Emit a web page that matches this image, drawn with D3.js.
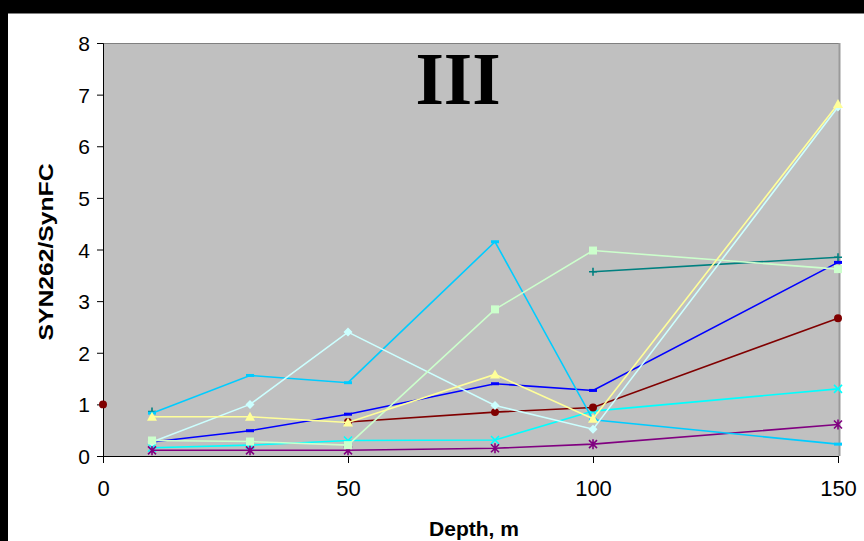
<html>
<head>
	<title>Depth profile III</title>
	<meta charset="utf-8">
	<script src="https://d3js.org/d3.v7.min.js"></script>
	<style>
		body { margin: 0; background: #fff; }
		text { font-family: Arial, "Liberation Sans", sans-serif; }
	</style>
</head>
<body>
	<svg id="chart" width="864" height="541"></svg>

	<script type="text/javascript">
		// depths (m) shared by every series
		var depths = [0, 10, 30, 50, 80, 100, 150]
		var xTicks = [0, 50, 100, 150]
		var yTicks = [0, 1, 2, 3, 4, 5, 6, 7, 8]

		// ratio values per series, null = no sample
		var cyanVals   = [null, 0.16, 0.21, 0.30, 0.31, 0.87, 1.30]
		var purpleVals = [null, 0.11, 0.11, 0.11, 0.15, 0.23, 0.61]
		var redVals    = [1.00, null, null, 0.66, 0.85, 0.94, 2.67]
		var tealVals   = [null, 0.86, null, null, null, 3.57, 3.85]
		var blueVals   = [null, 0.27, 0.49, 0.81, 1.40, 1.27, 3.75]
		var skyVals    = [null, 0.83, 1.56, 1.42, 4.15, 0.70, 0.23]
		var paleCyanVals  = [null, 0.27, 1.00, 2.40, 0.98, 0.52, 6.76]
		var paleGreenVals = [null, 0.30, 0.28, 0.21, 2.84, 3.98, 3.62]
		var paleYellowVals = [null, 0.76, 0.76, 0.65, 1.58, 0.72, 6.82]

		// drawing order (last one on top)
		var series = [
			{vals: cyanVals, color: "#00FFFF", marker: "x"},
			{vals: purpleVals, color: "#800080", marker: "star"},
			{vals: redVals, color: "#800000", marker: "circle"},
			{vals: tealVals, color: "#008080", marker: "plus"},
			{vals: blueVals, color: "#0000FF", marker: "bar"},
			{vals: skyVals, color: "#00CCFF", marker: "bar"},
			{vals: paleCyanVals, color: "#CCFFFF", marker: "diamond"},
			{vals: paleGreenVals, color: "#CCFFCC", marker: "square"},
			{vals: paleYellowVals, color: "#FFFF99", marker: "triangle"}
		]

		var svg = d3.select("#chart")

		// black frame left/top like the original screenshot
		svg.append("rect").attr("x", 0).attr("y", 0).attr("width", 864).attr("height", 13).attr("fill", "#000")
		svg.append("rect").attr("x", 0).attr("y", 0).attr("width", 8).attr("height", 541).attr("fill", "#000")
		svg.append("line").attr("x1", 8).attr("x2", 864).attr("y1", 13.5).attr("y2", 13.5).attr("stroke", "#808080")

		var plotL = 103, plotR = 838, plotT = 43, plotB = 456
		var x = d3.scaleLinear().domain([0, 150]).range([plotL, plotR])
		var y = d3.scaleLinear().domain([0, 8]).range([plotB, plotT])

		// plot area
		svg.append("rect")
			.attr("x", plotL).attr("y", plotT)
			.attr("width", 839 - plotL).attr("height", plotB - plotT)
			.attr("fill", "#C0C0C0")
		svg.append("line").attr("x1", plotL).attr("x2", 840).attr("y1", plotT + 0.5).attr("y2", plotT + 0.5)
			.attr("stroke", "#808080")
		svg.append("line").attr("x1", 839.5).attr("x2", 839.5).attr("y1", plotT).attr("y2", plotB)
			.attr("stroke", "#9a9a9a").attr("stroke-width", 2)

		// title
		svg.append("text")
			.attr("x", 458).attr("y", 104)
			.attr("text-anchor", "middle")
			.style("font-family", "'Liberation Serif', 'Times New Roman', serif")
			.style("font-weight", "bold")
			.style("font-size", "73px")
			.text("III")

		// axes
		var yAxis = d3.axisLeft(y).tickValues(yTicks).tickSize(6).tickFormat(d3.format("d"))
		var gy = svg.append("g").attr("transform", "translate(" + plotL + ",0)").call(yAxis)
		gy.selectAll("text").style("font-size", "21px").attr("x", -13).attr("dy", "0.36em")

		var xAxis = d3.axisBottom(x).tickValues(xTicks).tickSize(7).tickFormat(d3.format("d"))
		var gx = svg.append("g").attr("transform", "translate(0," + plotB + ")").call(xAxis)
		gx.selectAll("text").style("font-size", "22px").attr("y", 40).attr("dy", 0)

		svg.selectAll(".domain, .tick line").attr("stroke", "#000")
		svg.selectAll(".tick text").attr("fill", "#000")
		gx.select(".domain").attr("d", "M" + plotL + ",0.5H" + (plotR + 1))

		// axis titles
		svg.append("text")
			.attr("x", 474).attr("y", 536)
			.attr("text-anchor", "middle")
			.style("font-weight", "bold").style("font-size", "21px")
			.text("Depth, m")

		svg.append("text")
			.attr("transform", "translate(53,252) rotate(-90)")
			.attr("text-anchor", "middle")
			.attr("textLength", 177).attr("lengthAdjust", "spacingAndGlyphs")
			.style("font-weight", "bold").style("font-size", "20px")
			.text("SYN262/SynFC")

		// markers
		function markerPath(type) {
			switch (type) {
				case "circle": return d3.symbol(d3.symbolCircle, 50)()
				case "square": return "M-4,-4H4V4H-4Z"
				case "diamond": return "M0,-4.5L4.5,0L0,4.5L-4.5,0Z"
				case "triangle": return "M0,-5L5,4H-5Z"
				case "bar": return "M-4,-1.5H4V1.5H-4Z"
				case "x": return "M-4,-4L4,4M4,-4L-4,4"
				case "plus": return "M-4,0H4M0,-4V4"
				case "star": return "M-4,-4L4,4M4,-4L-4,4M0,-5V5"
			}
		}
		var strokeOnly = {x: 1, plus: 1, star: 1}

		var line = d3.line()
			.defined(d => d.v != null)
			.x(d => x(d.depth))
			.y(d => y(d.v))

		series.forEach(function (s) {
			var pts = depths.map((dep, i) => ({depth: dep, v: s.vals[i]}))
			svg.append("path")
				.datum(pts)
				.attr("fill", "none")
				.attr("stroke", s.color)
				.attr("stroke-width", 1.6)
				.attr("d", line)

			svg.append("g").selectAll("path")
				.data(pts.filter(d => d.v != null))
				.enter()
				.append("path")
				.attr("transform", d => "translate(" + x(d.depth) + "," + y(d.v) + ")")
				.attr("d", markerPath(s.marker))
				.attr("fill", strokeOnly[s.marker] ? "none" : s.color)
				.attr("stroke", s.color)
				.attr("stroke-width", strokeOnly[s.marker] ? 1.6 : 0)
		})
	</script>
</body>
</html>
